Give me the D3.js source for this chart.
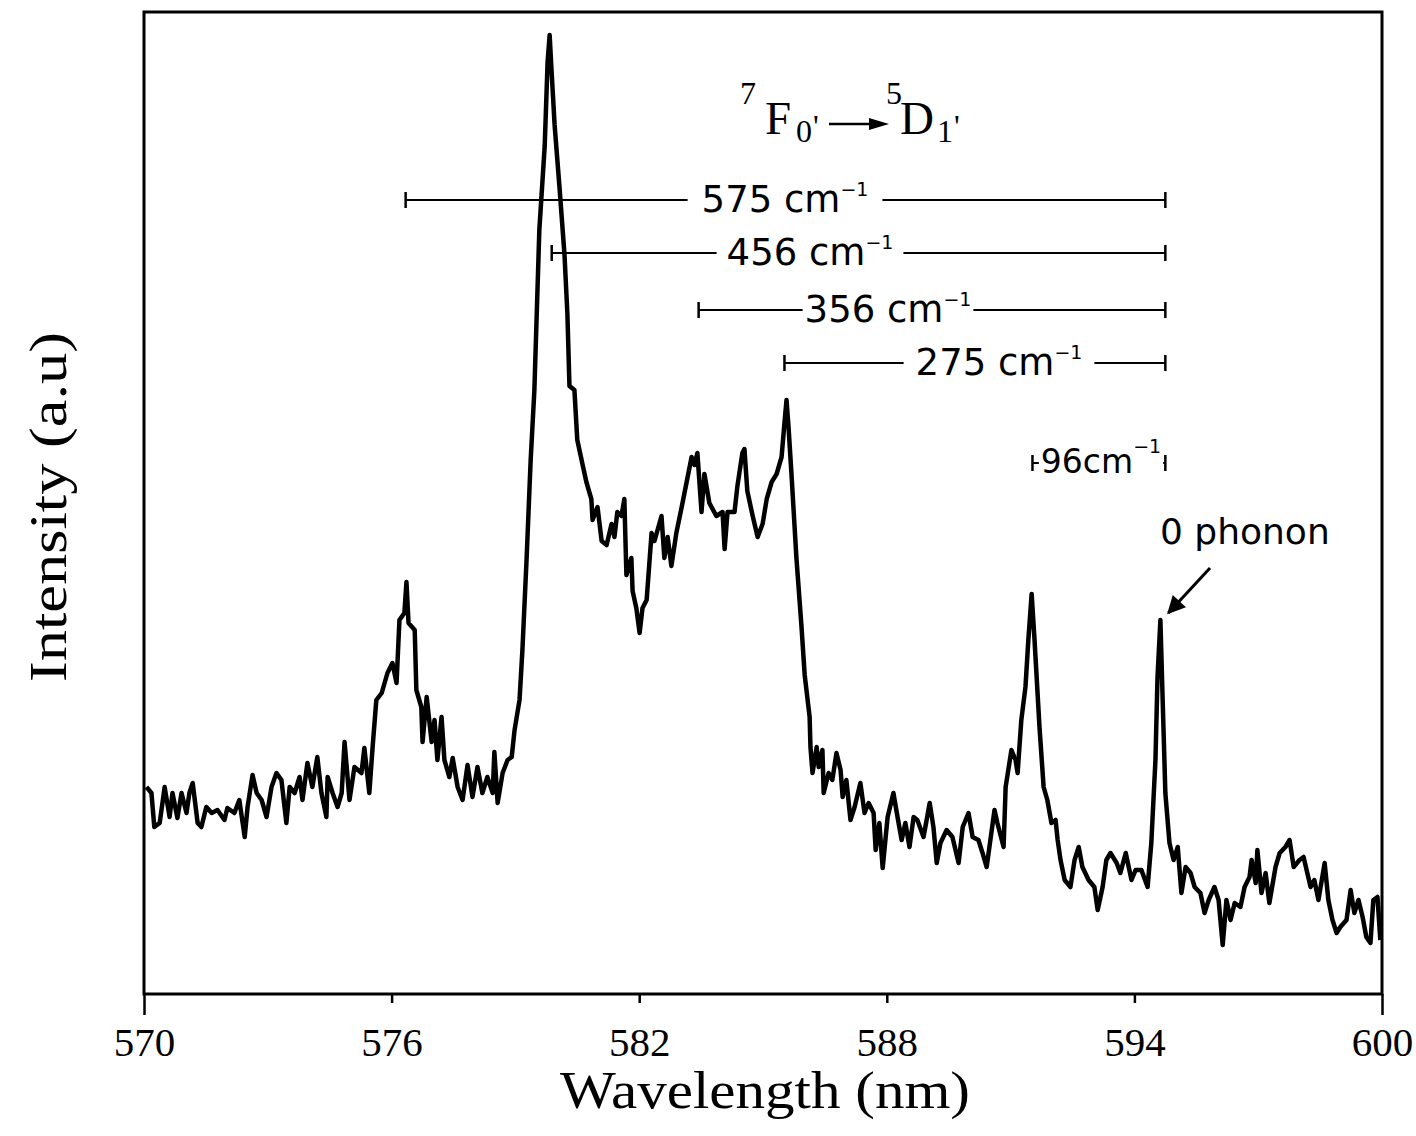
<!DOCTYPE html>
<html>
<head>
<meta charset="utf-8">
<script src="https://cdn.jsdelivr.net/npm/d3@7"></script>
<style>
  body { margin: 0; background: #fff; }
  svg { display: block; }
</style>
</head>
<body>
<div id="chart"></div>
<script>
// spectrum (wavelength in nm, intensity in a.u.)
const wavelength = [
  570.06, 570.18, 570.25, 570.38, 570.50, 570.62, 570.69, 570.81, 570.91, 571.03,
  571.10, 571.18, 571.30, 571.39, 571.51, 571.64, 571.78, 571.95, 572.02, 572.19,
  572.31, 572.44, 572.51, 572.63, 572.73, 572.85, 572.97, 573.09, 573.21, 573.33,
  573.45, 573.53, 573.65, 573.77, 573.84, 573.96, 574.08, 574.20, 574.30, 574.42,
  574.45, 574.57, 574.69, 574.79, 574.86, 574.98, 575.10, 575.27, 575.34, 575.46,
  575.54, 575.63, 575.76, 575.83, 575.90, 576.02, 576.12, 576.19, 576.31, 576.36,
  576.41, 576.56, 576.60, 576.72, 576.75, 576.85, 576.97, 577.04, 577.11, 577.21,
  577.28, 577.40, 577.48, 577.60, 577.72, 577.84, 577.96, 578.08, 578.20, 578.32,
  578.45, 578.49, 578.57, 578.69, 578.81, 578.91, 578.98, 579.10, 579.17, 579.27,
  579.37, 579.46, 579.58, 579.71, 579.78, 579.83, 579.87, 579.95, 580.07, 580.19,
  580.26, 580.31, 580.43, 580.50, 580.63, 580.72, 580.84, 580.87, 580.99, 581.09,
  581.21, 581.33, 581.40, 581.47, 581.57, 581.64, 581.69, 581.81, 581.84, 581.93,
  582.01, 582.08, 582.18, 582.30, 582.37, 582.54, 582.61, 582.69, 582.78, 582.90,
  583.03, 583.15, 583.27, 583.34, 583.41, 583.51, 583.58, 583.70, 583.87, 584.02,
  584.07, 584.14, 584.31, 584.38, 584.50, 584.55, 584.62, 584.75, 584.87, 584.99,
  585.09, 585.21, 585.33, 585.45, 585.52, 585.57, 585.62, 585.69, 585.81, 585.93,
  586.01, 586.13, 586.15, 586.20, 586.30, 586.35, 586.44, 586.47, 586.59, 586.68,
  586.78, 586.88, 586.93, 587.02, 587.12, 587.22, 587.36, 587.46, 587.56, 587.68,
  587.73, 587.82, 587.90, 588.02, 588.16, 588.26, 588.36, 588.45, 588.55, 588.65,
  588.74, 588.89, 589.04, 589.13, 589.21, 589.30, 589.45, 589.59, 589.74, 589.84,
  589.98, 590.08, 590.22, 590.32, 590.42, 590.51, 590.61, 590.68, 590.83, 590.88,
  591.02, 591.12, 591.17, 591.26, 591.36, 591.43, 591.51, 591.58, 591.70, 591.80,
  591.89, 591.99, 592.09, 592.14, 592.21, 592.31, 592.45, 592.55, 592.65, 592.74,
  592.89, 593.03, 593.11, 593.23, 593.32, 593.42, 593.57, 593.66, 593.79, 593.93,
  594.03, 594.17, 594.32, 594.41, 594.51, 594.56, 594.63, 594.68, 594.75, 594.85,
  594.95, 595.05, 595.14, 595.24, 595.36, 595.46, 595.60, 595.70, 595.80, 595.94,
  596.04, 596.14, 596.23, 596.33, 596.43, 596.57, 596.67, 596.79, 596.84, 596.94,
  596.98, 597.08, 597.18, 597.27, 597.42, 597.52, 597.66, 597.76, 597.86, 598.00,
  598.10, 598.19, 598.27, 598.36, 598.46, 598.61, 598.70, 598.80, 598.90, 598.99,
  599.14, 599.24, 599.33, 599.43, 599.53, 599.62, 599.72, 599.79, 599.89, 599.96
];

const intensity = [
  207, 201, 167, 171, 207, 177, 201, 176, 201, 181,
  201, 211, 171, 167, 187, 181, 184, 174, 186, 181,
  194, 157, 187, 219, 201, 194, 177, 207, 221, 214,
  171, 207, 201, 217, 194, 231, 207, 237, 201, 177,
  217, 201, 187, 201, 252, 194, 227, 221, 246, 201,
  247, 294, 301, 311, 321, 331, 311, 374, 381, 412,
  371, 364, 304, 287, 252, 297, 252, 274, 234, 277,
  234, 217, 236, 207, 194, 229, 197, 227, 201, 217,
  201, 242, 191, 221, 234, 237, 264, 294, 344, 434,
  534, 604, 764, 848, 932, 959, 928, 869, 806, 739,
  680, 608, 604, 554, 529, 512, 495, 474, 487, 453,
  449, 470, 457, 482, 478, 495, 419, 436, 403, 386,
  361, 386, 394, 461, 453, 478, 436, 457, 428, 461,
  487, 512, 537, 529, 541, 482, 520, 491, 478, 482,
  445, 482, 482, 508, 541, 545, 503, 478, 457, 470,
  495, 512, 520, 537, 571, 594, 566, 520, 436, 369,
  319, 277, 247, 221, 247, 227, 244, 201, 221, 214,
  241, 224, 197, 214, 174, 187, 211, 181, 191, 181,
  144, 171, 126, 177, 201, 177, 154, 171, 147, 177,
  174, 157, 191, 167, 131, 151, 164, 157, 131, 167,
  181, 157, 154, 141, 127, 154, 184, 171, 147, 207,
  244, 234, 221, 274, 307, 354, 400, 354, 267, 207,
  194, 171, 174, 154, 134, 114, 107, 134, 147, 127,
  114, 107, 84, 107, 134, 141, 131, 121, 141, 114,
  124, 124, 107, 151, 234, 317, 374, 301, 201, 151,
  134, 147, 101, 127, 121, 107, 101, 81, 94, 107,
  94, 49, 94, 74, 91, 87, 107, 117, 134, 111,
  144, 101, 121, 91, 127, 141, 147, 154, 127, 134,
  137, 121, 107, 114, 94, 131, 94, 74, 61, 67,
  74, 104, 81, 94, 77, 57, 51, 94, 97, 54
];

const xTicks = [570, 576, 582, 588, 594, 600];

// phonon side bands measured from the zero-phonon line
const shiftLabels = ["575", "456", "356", "275", "96"];
const shiftFromNm = [576.34, 579.88, 583.44, 585.52, 591.53];
const zeroPhononNm = 594.75;

const W = 1416, H = 1136;
const margin = { top: 12, right: 34, bottom: 142, left: 144 };
const width = W - margin.left - margin.right;
const height = H - margin.top - margin.bottom;

const serif = "'Liberation Serif', 'Times New Roman', serif";
const sans = "'DejaVu Sans', 'Liberation Sans', sans-serif";

const svg = d3.select("#chart").append("svg")
    .attr("width", W)
    .attr("height", H);

const g = svg.append("g")
    .attr("transform", `translate(${margin.left},${margin.top})`);

const x = d3.scaleLinear().domain([570, 600]).range([0, width]);
const y = d3.scaleLinear().domain([0, 982]).range([height, 0]);

// x axis (ticks pointing out, end ticks are the frame running past the axis)
const xAxis = g.append("g")
    .attr("transform", `translate(0,${height})`)
    .call(d3.axisBottom(x).tickValues(xTicks).tickSize(9).tickSizeOuter(0).tickPadding(24).tickFormat(d3.format("d")));
xAxis.select(".domain").remove();
xAxis.selectAll(".tick line")
    .attr("stroke", "#000")
    .attr("stroke-width", 2.5)
    .attr("y2", d => (d === 570 || d === 600) ? 21 : 9);
xAxis.selectAll(".tick text")
    .attr("fill", "#000")
    .style("font-family", serif)
    .style("font-size", "41px");

// frame
g.append("rect")
    .attr("x", 0).attr("y", 0)
    .attr("width", width).attr("height", height)
    .attr("fill", "none")
    .attr("stroke", "#000")
    .attr("stroke-width", 3);

// spectrum
const line = d3.line()
    .x((d, i) => x(wavelength[i]))
    .y(d => y(d));

g.append("path")
    .datum(intensity)
    .attr("d", line)
    .attr("fill", "none")
    .attr("stroke", "#000")
    .attr("stroke-width", 4.5)
    .attr("stroke-linejoin", "round");

// brackets: rows in pixels from the top of the plot, label centres in px
const rowY = [188, 241, 298, 351, 451];
const labelCx = [641, 666, 744, 855, 957];
const labelGap = [14, 10, 2, 12, 2];

shiftLabels.forEach((lab, i) => {
    const grp = g.append("g");
    const x1 = x(shiftFromNm[i]), x2 = x(zeroPhononNm), yy = rowY[i];
    grp.append("line")
        .attr("x1", x1).attr("x2", x2).attr("y1", yy).attr("y2", yy)
        .attr("stroke", "#000").attr("stroke-width", 2);
    [x1, x2].forEach(xx => {
        grp.append("line")
            .attr("x1", xx).attr("x2", xx).attr("y1", yy - 8).attr("y2", yy + 8)
            .attr("stroke", "#000").attr("stroke-width", 2.5);
    });
    const small = i === 4;
    const txt = grp.append("text")
        .attr("x", labelCx[i])
        .attr("y", yy + (small ? 10 : 12))
        .attr("text-anchor", "middle")
        .style("font-family", sans)
        .style("font-size", small ? "33px" : "37px")
        .attr("fill", "#000");
    txt.append("tspan").text(small ? lab + "cm" : lab + " cm");
    txt.append("tspan").attr("dy", small ? -20 : -16).style("font-size", "19px").text("\u22121");
    const bb = txt.node().getBBox();
    grp.insert("rect", "text")
        .attr("x", bb.x - labelGap[i]).attr("y", yy - 4)
        .attr("width", bb.width + 2 * labelGap[i]).attr("height", 8)
        .attr("fill", "#fff");
});

// zero phonon label and arrow
svg.append("defs").append("marker")
    .attr("id", "head")
    .attr("viewBox", "0 0 10 10")
    .attr("refX", 9).attr("refY", 5)
    .attr("markerWidth", 7).attr("markerHeight", 6)
    .attr("markerUnits", "strokeWidth")
    .attr("orient", "auto")
    .append("path").attr("d", "M0,0 L10,5 L0,10 Z").attr("fill", "#000");

g.append("text")
    .attr("x", 1016).attr("y", 532)
    .style("font-family", sans)
    .style("font-size", "36px")
    .attr("fill", "#000")
    .text("0 phonon");

g.append("line")
    .attr("x1", 1066).attr("y1", 556)
    .attr("x2", x(zeroPhononNm) + 3).attr("y2", 601)
    .attr("stroke", "#000").attr("stroke-width", 3)
    .attr("marker-end", "url(#head)");

// transition label  7F0' -> 5D1'
const titleParts = [
    { t: "7", x: 740, y: 104, s: 32 },
    { t: "F", x: 765, y: 134, s: 47 },
    { t: "0", x: 796, y: 142, s: 32 },
    { t: "'", x: 813, y: 137, s: 32 },
    { t: "5", x: 886, y: 104, s: 32 },
    { t: "D", x: 900, y: 134, s: 47 },
    { t: "1", x: 937, y: 142, s: 32 },
    { t: "'", x: 954, y: 137, s: 32 }
];
svg.selectAll(".title-part")
    .data(titleParts)
    .enter().append("text")
    .attr("class", "title-part")
    .attr("x", d => d.x).attr("y", d => d.y)
    .style("font-family", serif)
    .style("font-size", d => d.s + "px")
    .attr("fill", "#000")
    .text(d => d.t);

svg.append("line")
    .attr("x1", 829).attr("y1", 124).attr("x2", 872).attr("y2", 124)
    .attr("stroke", "#000").attr("stroke-width", 2.5);
svg.append("path")
    .attr("d", "M869,118 L889,124 L869,130 Z")
    .attr("fill", "#000");

// axis titles
svg.append("text")
    .attr("x", 765).attr("y", 1108)
    .attr("text-anchor", "middle")
    .attr("textLength", 410)
    .attr("lengthAdjust", "spacingAndGlyphs")
    .style("font-family", serif)
    .style("font-size", "52px")
    .attr("fill", "#000")
    .text("Wavelength (nm)");

svg.append("text")
    .attr("transform", "translate(66,507) rotate(-90)")
    .attr("text-anchor", "middle")
    .attr("textLength", 350)
    .attr("lengthAdjust", "spacingAndGlyphs")
    .style("font-family", serif)
    .style("font-size", "53px")
    .attr("fill", "#000")
    .text("Intensity (a.u)");
</script>
</body>
</html>
